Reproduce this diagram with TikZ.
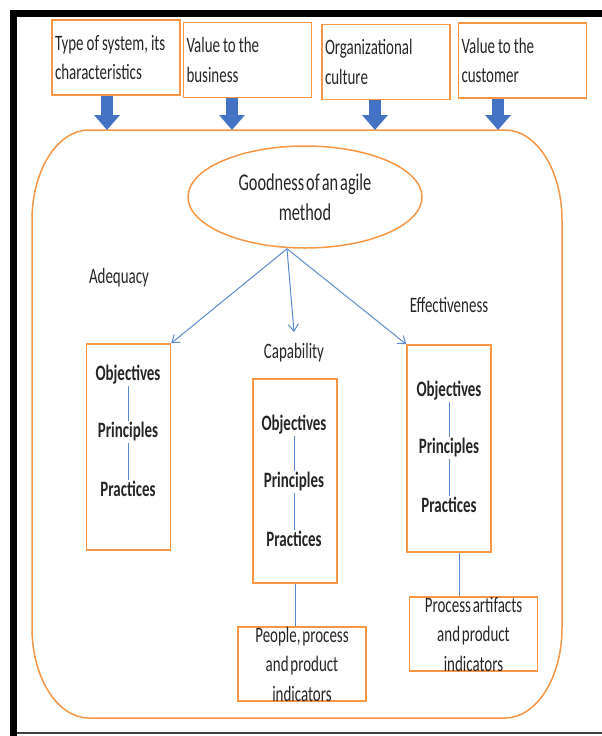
\documentclass[tikz,border=0pt]{standalone}
\usepackage{fontspec}
\setmainfont{Carlito}[FakeStretch=0.68, WordSpace=0.55]
\usetikzlibrary{shapes.geometric,arrows.meta}
\definecolor{boxorange}{RGB}{247,150,70}
\definecolor{flowblue}{RGB}{68,114,196}
\definecolor{linkblue}{RGB}{91,139,204}
\newcommand{\tightsp}{\spaceskip=3pt plus 1pt\relax}
\begin{document}
\begin{tikzpicture}[x=1pt,y=-1pt]
\tikzset{every node/.style={font=\fontsize{22}{29.5}\selectfont, text=black!85},
inbox/.style={draw=boxorange, line width=1.5pt, align=left, text width=122pt, minimum height=75pt, inner xsep=3pt},
partbox/.style={draw=boxorange, line width=1.5pt, minimum width=84pt},
outbox/.style={draw=boxorange, line width=1.5pt, minimum width=128pt, minimum height=74pt},
item/.style={font=\fontsize{22}{29.5}\selectfont\bfseries, inner sep=1pt},
feed/.style={flowblue, line width=12pt, -{Triangle[length=15pt,width=25pt]}},
link/.style={linkblue, line width=1pt},
pointer/.style={linkblue, line width=1pt, -{Straight Barb[length=7pt,width=10pt]}}}
\useasboundingbox (0,0) rectangle (602,736);
% Draw the frame
\fill[black] (10,10) rectangle (602,17);
\fill[black] (10,10) rectangle (17,736);
\draw[black!75, line width=1.5pt] (17,733) -- (602,733);
% the inputs on top
\node[inbox] (system) at (116,57.5) {\tightsp Type of system, its\\characteristics};
\node[inbox] (business) at (247.5,60) {\tightsp Value to the\\business};
\node[inbox] (culture) at (386,62) {\tightsp Organizational\\culture};
\node[inbox] (customer) at (522.5,60.5) {\tightsp Value to the\\customer};
% the big rounded frame
\coordinate (frametop) at (0,130);
\draw[boxorange, line width=1.5pt] (89,130) -- (505,130)
  .. controls (536.5,130) and (562,170.3) .. (562,220) -- (562,628)
  .. controls (562,677.7) and (536.5,718) .. (505,718) -- (89,718)
  .. controls (57.5,718) and (32,677.7) .. (32,628) -- (32,220)
  .. controls (32,170.3) and (57.5,130) .. cycle;
\foreach \b/\x in {system/107,business/232,culture/375,customer/498} {
\draw[feed] (\x,0 |- \b.south) -- (\x,0 |- frametop);
}
% the goal
\node[ellipse, draw=boxorange, line width=1.5pt, minimum width=234pt, minimum height=102pt, align=center, font=\fontsize{24}{30}\selectfont] (goal) at (305,197) {Goodness of an agile\\method};
\coordinate (hub) at ([xshift=-18pt]goal.south);
% the three views
\node (adequacy) at (119,278) {Adequacy};
\node (capability) at (294,353) {Capability};
\node (effect) at (449,305) {Effectiveness};
\node[partbox, minimum height=206pt] (adeqbox) at (128.5,447) {};
\node[partbox, minimum height=204pt] (capbox) at (295,481) {};
\node[partbox, minimum height=207pt] (effbox) at (449,448.5) {};
\foreach \n/\x/\y in {adeq/128/432, cap/294/482, eff/449/448} {
\node[item] (\n-pri) at (\x,\y) {Principles};
\node[item] (\n-obj) at (\x,\y-57) {Objectives};
\node[item] (\n-pra) at (\x,\y+57) {Practices};
\draw[link] (\n-obj) -- (\n-pri);
\draw[link] (\n-pri) -- (\n-pra);
}
\draw[pointer] (hub) -- (adeqbox.north east);
\draw[pointer] (hub) -- ([yshift=8pt]capability.north);
\draw[pointer] (hub) -- (effbox.north west);
% the indicators
\node[outbox] (people) at (302,664) {};
\node[align=center] at (people) {People, process\\and product\\indicators};
\node[outbox] (artifacts) at (473.5,634) {};
\node[align=center] at (artifacts) {Process artifacts\\and product\\indicators};
\draw[link] (capbox.south) -- (capbox.south |- people.north);
\draw[link] ([xshift=10pt]effbox.south) -- ([xshift=10pt]effbox.south |- artifacts.north);
\end{tikzpicture}
\end{document}
